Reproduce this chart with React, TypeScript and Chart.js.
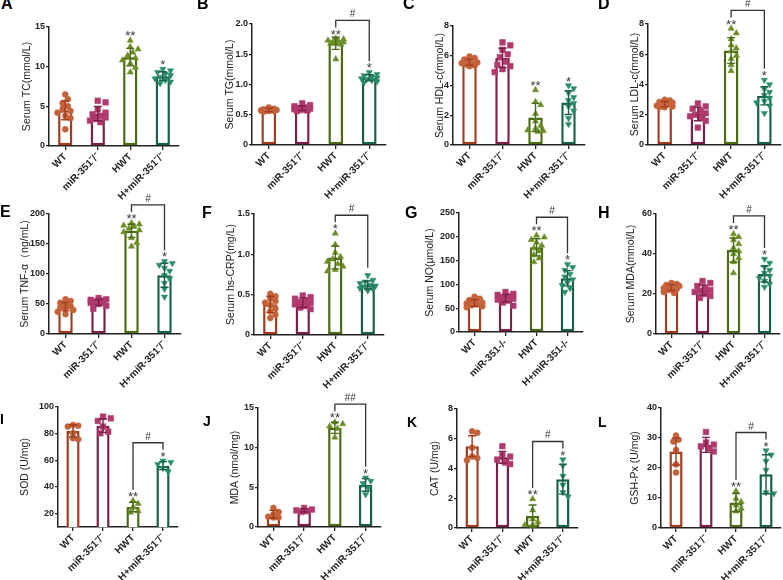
import React, { useEffect, useRef } from "react";
import { Chart, registerables } from "chart.js";

Chart.register(...registerables);

const FONT = "'Liberation Sans', Arial, Helvetica, sans-serif";
Chart.defaults.font.family = FONT;

const groupLabels = ["WT", "miR-351⁻/⁻", "HWT", "H+miR-351⁻/⁻"];
const groupLabelsG = ["WT", "miR-351-/-", "HWT", "H+miR-351-/-"];

// A  Serum TC
const tcTicks = [0, 5, 10, 15];
const tcMean = [4.5, 4.1, 11.2, 8.8];
const tcSd = [1.2, 0.9, 1.1, 0.55];
const tcPoints = [
  [6.5, 5.9, 5.4, 5.0, 4.7, 4.4, 4.2, 3.8, 3.5, 2.1],
  [5.7, 5.5, 4.6, 4.2, 4.0, 3.8, 3.6, 3.4, 3.2, 3.0],
  [13.3, 12.5, 12.2, 11.8, 11.4, 11.1, 10.8, 10.4, 9.9, 9.3],
  [9.7, 9.5, 9.3, 9.1, 8.9, 8.7, 8.5, 8.3, 8.1, 7.9],
];
const tcStars = ["", "", "**", "*"];

// B  Serum TG
const tgTicks = [0, 0.5, 1, 1.5, 2];
const tgMean = [0.58, 0.61, 1.68, 1.11];
const tgSd = [0.03, 0.04, 0.1, 0.05];
const tgPoints = [
  [0.62, 0.6, 0.59, 0.58, 0.58, 0.57, 0.57, 0.56, 0.56, 0.55],
  [0.69, 0.66, 0.64, 0.62, 0.61, 0.6, 0.59, 0.58, 0.57, 0.56],
  [1.76, 1.75, 1.73, 1.72, 1.71, 1.7, 1.69, 1.68, 1.66, 1.42],
  [1.2, 1.17, 1.15, 1.13, 1.11, 1.1, 1.09, 1.07, 1.05, 1.03],
];
const tgStars = ["", "", "**", "*"];

// C  Serum HDL-c
const hdlTicks = [0, 2, 4, 6, 8];
const hdlMean = [5.57, 5.85, 1.85, 2.85];
const hdlSd = [0.2, 0.65, 0.95, 0.8];
const hdlPoints = [
  [5.95, 5.85, 5.75, 5.65, 5.55, 5.5, 5.45, 5.4, 5.35, 5.3],
  [6.9, 6.7, 6.4, 6.1, 5.9, 5.6, 5.4, 5.3, 5.1, 4.9],
  [3.7, 2.9, 2.7, 2.1, 1.6, 1.3, 1.1, 1.0, 0.95, 0.9],
  [4.0, 3.8, 3.5, 3.2, 3.0, 2.8, 2.6, 2.3, 1.8, 1.4],
];
const hdlStars = ["", "", "**", "*"];

// D  Serum LDL-c
const ldlTicks = [0, 2, 4, 6, 8];
const ldlMean = [2.7, 2.05, 6.25, 3.25];
const ldlSd = [0.18, 0.45, 0.85, 0.6];
const ldlPoints = [
  [3.0, 2.95, 2.85, 2.8, 2.7, 2.65, 2.6, 2.55, 2.5, 2.5],
  [2.75, 2.55, 2.4, 2.25, 2.1, 2.0, 1.9, 1.8, 1.6, 1.15],
  [7.7, 7.4, 7.0, 6.6, 6.4, 6.2, 5.9, 5.7, 5.3, 4.9],
  [4.3, 4.0, 3.7, 3.5, 3.3, 3.1, 2.9, 2.8, 2.6, 2.1],
];
const ldlStars = ["", "", "**", "*"];

// E  Serum TNF-α
const tnfTicks = [0, 50, 100, 150, 200];
const tnfMean = [45.5, 52.5, 172, 98];
const tnfSd = [7, 5, 11, 20];
const tnfPoints = [
  [58, 55, 52, 48, 46, 44, 42, 40, 37, 33],
  [60, 58, 57, 56, 54, 53, 52, 50, 47, 42],
  [185, 183, 181, 179, 176, 173, 170, 160, 152, 146],
  [121, 118, 115, 110, 105, 98, 92, 85, 75, 62],
];
const tnfStars = ["", "", "**", "*"];

// F  Serum hs-CRP
const crpTicks = [0, 0.5, 1, 1.5];
const crpMean = [0.38, 0.4, 0.96, 0.62];
const crpSd = [0.1, 0.06, 0.14, 0.05];
const crpPoints = [
  [0.51, 0.48, 0.45, 0.42, 0.4, 0.37, 0.33, 0.29, 0.25, 0.21],
  [0.49, 0.47, 0.45, 0.43, 0.41, 0.4, 0.38, 0.36, 0.34, 0.32],
  [1.26, 1.12, 1.02, 0.97, 0.94, 0.91, 0.88, 0.85, 0.81, 0.79],
  [0.74, 0.68, 0.66, 0.64, 0.62, 0.61, 0.6, 0.58, 0.57, 0.55],
];
const crpStars = ["", "", "*", ""];

// G  Serum NO
const noTicks = [0, 50, 100, 150, 200, 250];
const noMean = [61, 71, 178, 113];
const noSd = [7, 8, 18, 16];
const noPoints = [
  [74, 70, 67, 64, 62, 60, 58, 56, 54, 52],
  [84, 80, 78, 75, 72, 70, 68, 66, 62, 55],
  [203, 199, 194, 188, 182, 176, 170, 162, 155, 147],
  [142, 136, 130, 122, 116, 110, 104, 98, 92, 84],
];
const noStars = ["", "", "**", "*"];

// H  Serum MDA
const smdaTicks = [0, 20, 40, 60];
const smdaMean = [23.2, 22, 42, 30];
const smdaSd = [1.5, 2.5, 6, 4];
const smdaPoints = [
  [25.5, 25, 24.5, 24, 23.5, 23, 22.5, 22, 21, 20.5],
  [26.5, 25.5, 24, 23, 22, 21.5, 21, 20, 19, 18],
  [50, 48.5, 47, 45, 43, 41.5, 40, 38, 36, 30.5],
  [37.5, 35.5, 33.5, 32, 30.5, 29, 28, 26.5, 25, 23.5],
];
const smdaStars = ["", "", "**", "*"];

// I  SOD
const sodTicks = [20, 40, 60, 80, 100];
const sodMean = [82, 86, 25, 56];
const sodSd = [4.5, 5, 3.6, 3];
const sodPoints = [
  [86.5, 86, 85.3, 80.3, 76.6, 75.8],
  [92.8, 91.5, 89.5, 85.3, 81.5, 80.3],
  [29.7, 27.5, 25, 22, 21],
  [59.6, 58.6, 57.1, 54.1, 51.5],
];
const sodStars = ["", "", "**", "*"];

// J  MDA
const mdaTicks = [0, 5, 10, 15];
const mdaMean = [1.6, 2.1, 12.5, 5.3];
const mdaSd = [0.5, 0.2, 0.7, 0.8];
const mdaPoints = [
  [2.4, 1.9, 1.6, 1.3, 1.2, 1.2],
  [2.4, 2.2, 2.1, 2.0, 1.9],
  [13.2, 13.0, 12.7, 12.4, 11.3],
  [6.2, 5.8, 5.5, 4.9, 4.1],
];
const mdaStars = ["", "", "**", "*"];

// K  CAT
const catTicks = [0, 2, 4, 6, 8];
const catMean = [5.5, 4.75, 0.8, 3.28];
const catSd = [0.7, 0.4, 0.75, 1.0];
const catPoints = [
  [6.5, 6.4, 5.4, 4.8, 4.7, 4.55],
  [5.5, 4.9, 4.8, 4.6, 4.4, 4.3],
  [1.95, 1.2, 0.6, 0.4, 0.2, 0.2],
  [4.6, 4.2, 3.5, 2.9, 2.4, 2.1],
];
const catStars = ["", "", "**", "*"];

// L  GSH-Px
const gshTicks = [0, 10, 20, 30, 40];
const gshMean = [25.5, 27.7, 8.5, 17.9];
const gshSd = [4.5, 2.5, 3.0, 6.5];
const gshPoints = [
  [30.8, 29.4, 28.8, 26, 21.2, 18.5],
  [32, 28.5, 27.8, 27.2, 26.5, 25.5],
  [12.3, 9.8, 8.7, 7.6, 6.5, 5.6],
  [25.8, 24.4, 22.3, 19.3, 11.8, 11.5],
];
const gshStars = ["", "", "**", "*"];

const PANELS = [
  { id: "A", title: "Serum TC(mmol/L)", labels: groupLabels, ticks: tcTicks, min: 0, max: 15, mean: tcMean, sd: tcSd, points: tcPoints, stars: tcStars, hash: "" },
  { id: "B", title: "Serum TG(mmol/L)", labels: groupLabels, ticks: tgTicks, min: 0, max: 2, mean: tgMean, sd: tgSd, points: tgPoints, stars: tgStars, hash: "#" },
  { id: "C", title: "Serum HDL-c(mmol/L)", labels: groupLabels, ticks: hdlTicks, min: 0, max: 8, mean: hdlMean, sd: hdlSd, points: hdlPoints, stars: hdlStars, hash: "" },
  { id: "D", title: "Serum LDL-c(mmol/L)", labels: groupLabels, ticks: ldlTicks, min: 0, max: 8, mean: ldlMean, sd: ldlSd, points: ldlPoints, stars: ldlStars, hash: "#" },
  { id: "E", title: "Serum TNF-α（ng/mL)", labels: groupLabels, ticks: tnfTicks, min: 0, max: 200, mean: tnfMean, sd: tnfSd, points: tnfPoints, stars: tnfStars, hash: "#" },
  { id: "F", title: "Serum hs-CRP(mg/L)", labels: groupLabels, ticks: crpTicks, min: 0, max: 1.5, mean: crpMean, sd: crpSd, points: crpPoints, stars: crpStars, hash: "#" },
  { id: "G", title: "Serum NO(μmol/L)", labels: groupLabelsG, ticks: noTicks, min: 0, max: 250, mean: noMean, sd: noSd, points: noPoints, stars: noStars, hash: "#" },
  { id: "H", title: "Serum MDA(mmol/L)", labels: groupLabels, ticks: smdaTicks, min: 0, max: 60, mean: smdaMean, sd: smdaSd, points: smdaPoints, stars: smdaStars, hash: "#" },
  { id: "I", title: "SOD (U/mg)", labels: groupLabels, ticks: sodTicks, min: 10, max: 100, mean: sodMean, sd: sodSd, points: sodPoints, stars: sodStars, hash: "#" },
  { id: "J", title: "MDA (nmol/mg)", labels: groupLabels, ticks: mdaTicks, min: 0, max: 15, mean: mdaMean, sd: mdaSd, points: mdaPoints, stars: mdaStars, hash: "##" },
  { id: "K", title: "CAT (U/mg)", labels: groupLabels, ticks: catTicks, min: 0, max: 8, mean: catMean, sd: catSd, points: catPoints, stars: catStars, hash: "#" },
  { id: "L", title: "GSH-Px (U/mg)", labels: groupLabels, ticks: gshTicks, min: 0, max: 40, mean: gshMean, sd: gshSd, points: gshPoints, stars: gshStars, hash: "#" },
];

// layout (pixel positions of each panel's plot area)
const LAYOUT = [
  { axisX: 49, top: 27, bottom: 146, right: 179, titleX: 27, lx: 1, ly: -4, lsize: 16 },
  { axisX: 252, top: 24, bottom: 145, right: 386, titleX: 230, lx: 197, ly: -4, lsize: 16 },
  { axisX: 453, top: 26, bottom: 145, right: 585, titleX: 440, lx: 403, ly: -4, lsize: 16 },
  { axisX: 648, top: 24, bottom: 145, right: 781, titleX: 635, lx: 598, ly: -4, lsize: 16 },
  { axisX: 49, top: 214, bottom: 334, right: 181, titleX: 25.5, lx: 0, ly: 204, lsize: 16 },
  { axisX: 254, top: 214, bottom: 335, right: 384, titleX: 231, lx: 202, ly: 205, lsize: 16 },
  { axisX: 459, top: 213, bottom: 332, right: 583, titleX: 430, lx: 405, ly: 205, lsize: 16 },
  { axisX: 656, top: 214, bottom: 334, right: 780, titleX: 631, lx: 598, ly: 205, lsize: 16 },
  { axisX: 58, top: 407, bottom: 527, right: 178, titleX: 25, lx: 0, ly: 412, lsize: 14 },
  { axisX: 258, top: 408, bottom: 527, right: 381, titleX: 235, lx: 203, ly: 414, lsize: 14 },
  { axisX: 457, top: 409, bottom: 528, right: 578, titleX: 435, lx: 407, ly: 415, lsize: 14 },
  { axisX: 661, top: 408, bottom: 528, right: 781, titleX: 635, lx: 598, ly: 415, lsize: 14 },
];

const BORDER = ["#A33C1D", "#7A1F47", "#4A6B14", "#17604A"];
const FILL = ["#C4633B", "#B0396D", "#6B8D25", "#2A8B6C"];
const STYLES = ["circle", "rect", "triangle", "triangle"];
const ROT = [0, 0, 0, 180];
const RADII = [3, 4, 3.6, 3.6];
const INK = "#222";

// deterministic beeswarm spread (pixel offsets) derived from the values
function swarm(vals: number[], ppu: number, r: number): number[] {
  const order = vals.map((_, i) => i).sort((a, b) => vals[b] - vals[a]);
  const placed: { x: number; y: number }[] = [];
  const out = vals.map(() => 0);
  const need = r * 1.6;
  const steps = [0, 1, -1, 2, -2, 3, -3];
  for (const i of order) {
    const py = vals[i] * ppu;
    let best = 0;
    let bestD = -1;
    for (const s of steps) {
      const cx = s * 2.6;
      let dmin = Infinity;
      for (const q of placed) dmin = Math.min(dmin, Math.hypot(q.x - cx, q.y - py));
      if (dmin >= need) {
        best = cx;
        break;
      }
      if (dmin > bestD) {
        bestD = dmin;
        best = cx;
      }
    }
    out[i] = best;
    placed.push({ x: best, y: py });
  }
  return out;
}

const TITLE_SIZE = 10.5;
const XH = 62;

function Panel({ cfg, lay }: { cfg: any; lay: any }) {
  const ref = useRef<HTMLCanvasElement>(null);
  const left = Math.round(lay.titleX - 8);
  const top = lay.top - 30;
  const width = lay.right + 4 - left;
  const height = lay.bottom + XH - top;

  useEffect(() => {
    const half = (TITLE_SIZE * 1.2) / 2;
    const padLeft = lay.titleX - left - half;
    const plotH = lay.bottom - lay.top;
    const ppu = plotH / (cfg.max - cfg.min);
    const ppc = (lay.right - lay.axisX) / 4;

    const scatterSets = cfg.points.map((vals: number[], g: number) => {
      const offs = swarm(vals, ppu, RADII[g]);
      return {
        type: "scatter",
        data: vals.map((v, k) => ({ x: g + offs[k] / ppc, y: v })),
        pointStyle: STYLES[g],
        pointRadius: RADII[g],
        pointRotation: ROT[g],
        backgroundColor: FILL[g],
        borderColor: FILL[g],
        borderWidth: 0.5,
        order: 1,
      };
    });

    const annot = {
      id: "annot",
      afterDatasetsDraw(chart: any) {
        const ctx = chart.ctx;
        const x = chart.scales.x;
        const y = chart.scales.y;
        ctx.save();
        cfg.mean.forEach((m: number, g: number) => {
          const px = x.getPixelForValue(g);
          const y1 = y.getPixelForValue(m + cfg.sd[g]);
          const y0 = y.getPixelForValue(Math.max(cfg.min, m - cfg.sd[g]));
          ctx.strokeStyle = BORDER[g];
          ctx.lineWidth = 1.4;
          ctx.beginPath();
          ctx.moveTo(px, y0);
          ctx.lineTo(px, y1);
          ctx.moveTo(px - 4, y1);
          ctx.lineTo(px + 4, y1);
          ctx.moveTo(px - 4, y0);
          ctx.lineTo(px + 4, y0);
          ctx.stroke();
        });
        const legBottom: number[] = [];
        cfg.mean.forEach((m: number, g: number) => {
          const pTop = y.getPixelForValue(Math.max(...cfg.points[g])) - RADII[g];
          const eTop = y.getPixelForValue(m + cfg.sd[g]);
          const t = Math.min(pTop, eTop);
          const s = cfg.stars[g];
          const px = x.getPixelForValue(g);
          if (s) {
            ctx.font = `13px ${FONT}`;
            ctx.fillStyle = "#3a3a3a";
            ctx.textAlign = "center";
            ctx.textBaseline = "alphabetic";
            ctx.fillText(s, px, t + 3.6);
            legBottom[g] = t - 7.5;
          } else {
            legBottom[g] = t - 4;
          }
        });
        if (cfg.hash) {
          const xa = x.getPixelForValue(2);
          const xb = x.getPixelForValue(3);
          const topY = Math.min(legBottom[2], legBottom[3]) - 7;
          ctx.strokeStyle = "#333";
          ctx.lineWidth = 1.3;
          ctx.beginPath();
          ctx.moveTo(xa, legBottom[2]);
          ctx.lineTo(xa, topY);
          ctx.lineTo(xb, topY);
          ctx.lineTo(xb, legBottom[3]);
          ctx.stroke();
          ctx.font = `10px ${FONT}`;
          ctx.fillStyle = "#333";
          ctx.textAlign = "center";
          ctx.textBaseline = "alphabetic";
          ctx.fillText(cfg.hash, (xa + xb) / 2, topY - 3);
        }
        ctx.restore();
      },
    };

    const chart = new Chart(ref.current as HTMLCanvasElement, {
      type: "bar",
      data: {
        datasets: [
          {
            type: "bar",
            data: cfg.mean.map((m: number, g: number) => ({ x: g, y: m })),
            backgroundColor: "#ffffff",
            borderColor: BORDER,
            borderWidth: 2.5,
            borderSkipped: false,
            barPercentage: 0.44,
            categoryPercentage: 1,
            grouped: false,
            order: 10,
          } as any,
          ...scatterSets,
        ],
      },
      options: {
        responsive: false,
        animation: false,
        events: [],
        layout: { autoPadding: false, padding: { left: padLeft, top: 30, right: 4, bottom: 0 } } as any,
        plugins: { legend: { display: false }, tooltip: { enabled: false } },
        scales: {
          x: {
            type: "linear",
            min: -0.5,
            max: 3.5,
            offset: false,
            afterBuildTicks: (s: any) => {
              s.ticks = cfg.labels.map((_: string, i: number) => ({ value: i }));
            },
            grid: { offset: false, drawOnChartArea: false, drawTicks: true, tickLength: 4, color: INK, lineWidth: 1.3 },
            border: { display: true, color: INK, width: 1.5 },
            ticks: {
              minRotation: 45,
              maxRotation: 45,
              autoSkip: false,
              padding: 1,
              color: INK,
              font: { size: 10, weight: "bold" },
              callback: (v: any) => cfg.labels[Math.round(Number(v))] ?? "",
            },
            afterFit: (s: any) => {
              s.height = XH;
            },
          },
          y: {
            type: "linear",
            min: cfg.min,
            max: cfg.max,
            afterBuildTicks: (s: any) => {
              s.ticks = cfg.ticks.map((v: number) => ({ value: v }));
            },
            afterFit: (s: any) => {
              s.width = lay.axisX - left - padLeft;
            },
            grid: { drawOnChartArea: false, drawTicks: true, tickLength: 3, color: INK, lineWidth: 1.3 },
            border: { display: true, color: INK, width: 1.5 },
            ticks: { padding: 1, color: INK, font: { size: 9, weight: "bold" } },
            title: { display: true, text: cfg.title, color: INK, padding: 0, font: { size: TITLE_SIZE } },
          },
        } as any,
      },
      plugins: [annot],
    } as any);
    return () => chart.destroy();
  }, []);

  return (
    <canvas
      ref={ref}
      width={width}
      height={height}
      style={{ position: "absolute", left, top, width, height }}
    />
  );
}

export default function App() {
  return (
    <div
      style={{
        position: "absolute",
        left: 0,
        top: 0,
        width: 783,
        height: 580,
        overflow: "hidden",
        background: "#fff",
        fontFamily: FONT,
      }}
    >
      {PANELS.map((p, i) => (
        <Panel key={p.id} cfg={p} lay={LAYOUT[i]} />
      ))}
      {PANELS.map((p, i) => (
        <div
          key={"lbl" + p.id}
          style={{
            position: "absolute",
            left: LAYOUT[i].lx,
            top: LAYOUT[i].ly,
            fontWeight: "bold",
            fontSize: LAYOUT[i].lsize,
            lineHeight: 1,
            color: "#000",
          }}
        >
          {p.id}
        </div>
      ))}
    </div>
  );
}
